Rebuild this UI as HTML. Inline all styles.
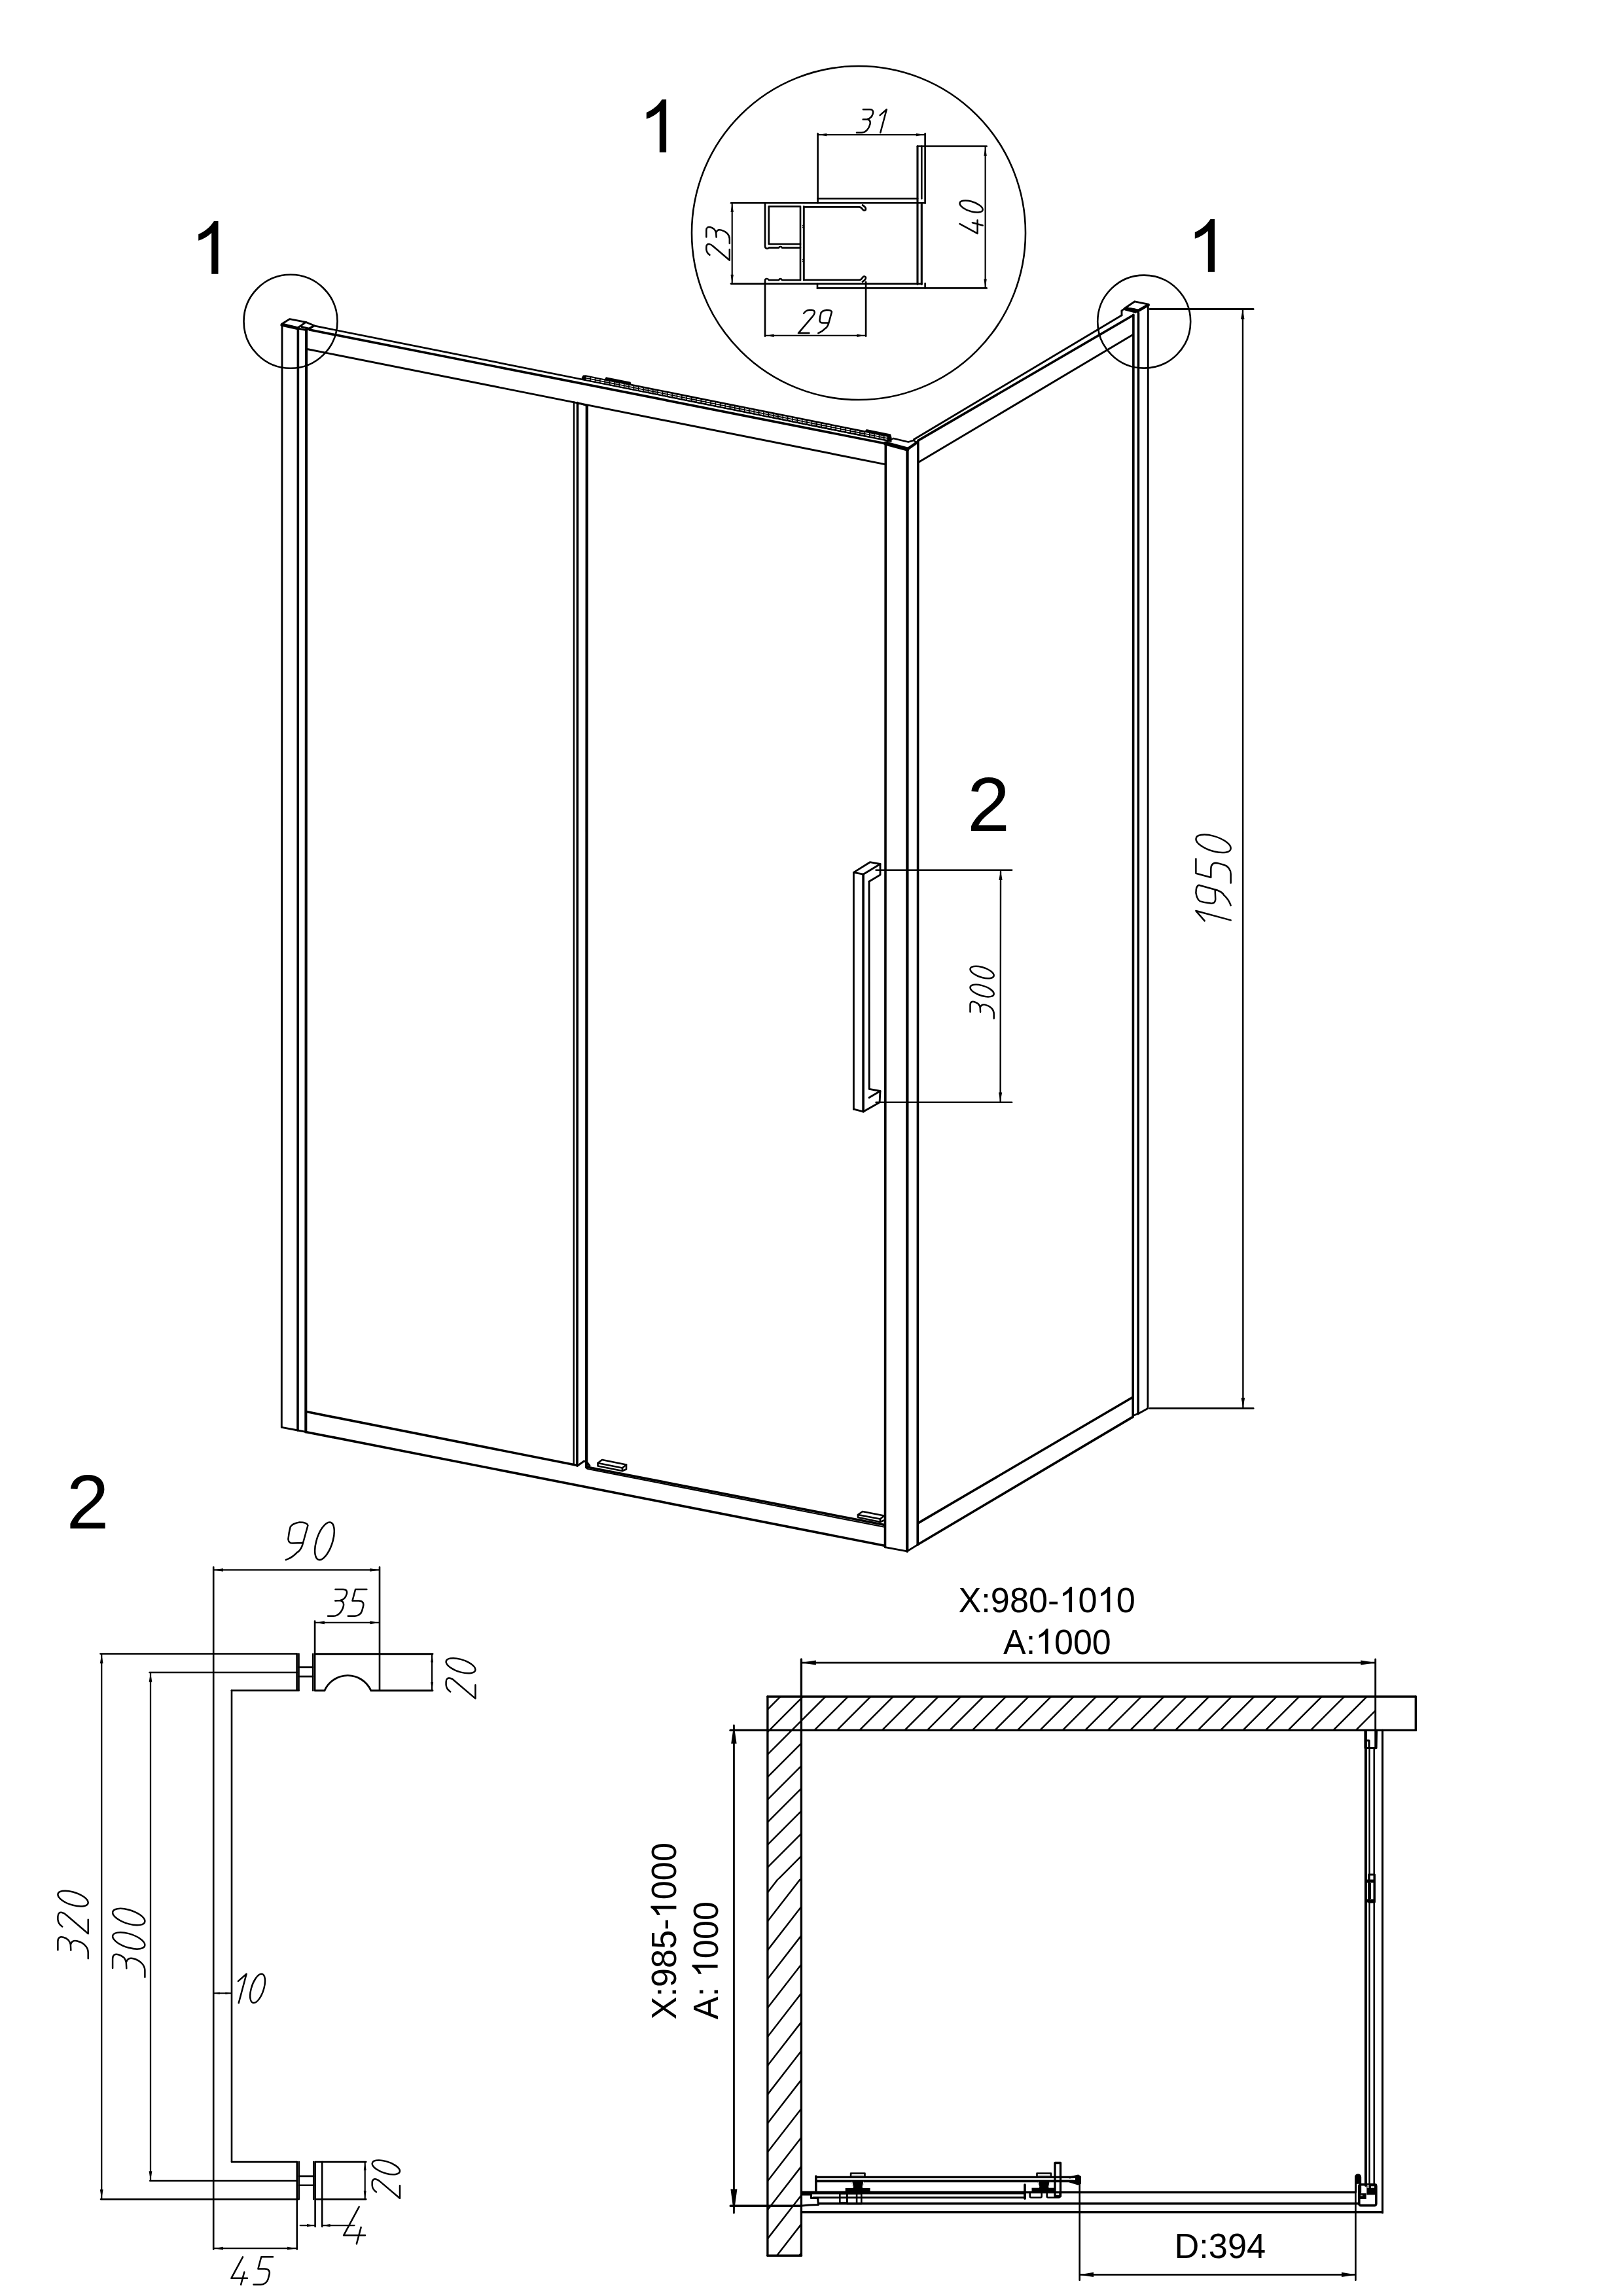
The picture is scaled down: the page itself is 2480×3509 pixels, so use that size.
<!DOCTYPE html>
<html><head><meta charset="utf-8"><style>
html,body{margin:0;padding:0;background:#fff;}
svg{display:block;}
text{font-family:"Liberation Sans",sans-serif;fill:#000;stroke:none;font-kerning:none;}
</style></head><body>
<svg width="2480" height="3509" viewBox="0 0 2480 3509">
<rect width="2480" height="3509" fill="#fff"/>
<g fill="none" stroke="#000" stroke-linecap="round" stroke-linejoin="round">
<path d="M326.9,338 L333.5,338 L333.5,418.8 L323.2,418.8 L323.2,355.9 C317.7,361.2 310.7,365.2 303.2,367.8 L303.2,358.1 C313.2,353.6 321.7,346.5 326.9,338 Z" fill="#000" stroke="none"/>
<path d="M1849.5,335 L1856.1,335 L1856.1,415.8 L1845.8,415.8 L1845.8,352.9 C1840.3,358.2 1833.3,362.2 1825.8,364.8 L1825.8,355.1 C1835.8,350.6 1844.3,343.5 1849.5,335 Z" fill="#000" stroke="none"/>
<path d="M1011.5,152 L1018.1,152 L1018.1,232.8 L1007.8,232.8 L1007.8,169.9 C1002.3,175.2 995.3,179.2 987.8,181.8 L987.8,172.1 C997.8,167.6 1006.3,160.5 1011.5,152 Z" fill="#000" stroke="none"/>
<g><text x="1478.1" y="1269.7" font-size="117">2</text></g>
<g><text x="101.4" y="2335.9" font-size="117">2</text></g>
<circle cx="444" cy="491.3" r="71.5" stroke-width="2.6"/>
<circle cx="1748.2" cy="491.6" r="71" stroke-width="2.6"/>
<circle cx="1312" cy="356" r="255" stroke-width="2.6"/>
<line x1="431" y1="495.5" x2="430.3" y2="2181.3" stroke-width="2.88"/>
<line x1="455.4" y1="501.5" x2="455" y2="2186" stroke-width="3.6"/>
<line x1="468.1" y1="503.5" x2="467.3" y2="2188.4" stroke-width="4.08"/>
<path d="M430.3,2181.3 L455,2186 L467.3,2188.4" stroke-width="2.88"/>
<path d="M430.8,495 L442.8,487.6 L467.4,492.4 L455.4,500.8 Z" stroke-width="2.88"/>
<line x1="430.8" y1="496.5" x2="455.4" y2="502" stroke-width="4.8"/>
<path d="M455.4,502 L468.1,504.6 L480,497.5 L467.4,492.4" stroke-width="2.88"/>
<path d="M461,499.5 L473,502.5 L479.7,498" stroke-width="2.88"/>
<line x1="480" y1="497.9" x2="1324" y2="666.7" stroke-width="2.64"/>
<line x1="473" y1="504" x2="1353.5" y2="678" stroke-width="3.6"/>
<line x1="469.3" y1="533.5" x2="1352.3" y2="709.6" stroke-width="2.88"/>
<path d="M888.8,576.7 L891.0,573.6 L895.0,573.3 L924.0,579.3 L926.0,576.3 L963.5,583.7 L964.5,586.8 L1322.0,658.3 L1324.0,656.0 L1361.0,663.4 L1362.5,668.4 L1362.5,675.9 L888.8,580.5 Z" fill="#000" stroke="none"/>
<line x1="896" y1="576.4" x2="1355" y2="668.2" stroke="#fff" stroke-width="1.2" stroke-dasharray="5 2.5"/>
<line x1="896" y1="579.4" x2="1355" y2="671.2" stroke="#fff" stroke-width="1.2" stroke-dasharray="5 2.5"/>
<line x1="877" y1="614.5" x2="876.7" y2="2238" stroke-width="2.4"/>
<line x1="882.5" y1="615.5" x2="881.9" y2="2240" stroke-width="3.6"/>
<line x1="896.8" y1="620" x2="896.1" y2="2242.5" stroke-width="4.32"/>
<path d="M883.5,617 L888,617 L898,620.5" stroke-width="2.4"/>
<line x1="468.5" y1="2157.6" x2="881.9" y2="2239.5" stroke-width="3.6"/>
<line x1="896.5" y1="2242" x2="1351.5" y2="2330.6" stroke-width="3.6"/>
<line x1="898" y1="2245" x2="1351.5" y2="2333.8" stroke-width="2.16"/>
<line x1="467.3" y1="2188.4" x2="1351.5" y2="2362.3" stroke-width="3.6"/>
<path d="M882,2240.5 L892.5,2233 L897.5,2235.5 L901,2240 L897,2244" stroke-width="2.88"/>
<path d="M913.5,2236 L920,2231 L957,2238.5 L951,2243.5 Z" stroke-width="2.64"/>
<path d="M913.5,2236 L913.5,2240.5 L951,2248 L957,2245.5 L957,2238.5" stroke-width="2.64"/>
<line x1="951" y1="2243.5" x2="951" y2="2248" stroke-width="2.64"/>
<path d="M1311,2315 L1318,2310 L1351,2316.5 L1345,2321.5 Z" stroke-width="2.64"/>
<path d="M1311,2315 L1311,2319 L1345,2326 L1351,2323.5" stroke-width="2.64"/>
<line x1="1345" y1="2321.5" x2="1345" y2="2326" stroke-width="2.64"/>
<line x1="1353.3" y1="677" x2="1352.5" y2="2364.6" stroke-width="3.6"/>
<line x1="1386.5" y1="685.8" x2="1386.2" y2="2370.8" stroke-width="4.32"/>
<line x1="1402.8" y1="673.5" x2="1402.2" y2="2360.9" stroke-width="3.6"/>
<path d="M1352.5,2364.6 L1386.2,2370.8 L1402.2,2360.9" stroke-width="2.88"/>
<path d="M1353,676.5 L1386.5,685.8 L1401,676.5 L1396,673 L1388,675.5 L1365,670 Z" fill="none" stroke-width="2.4"/>
<line x1="1353" y1="677.5" x2="1386.5" y2="686.5" stroke-width="6.0"/>
<line x1="1386.5" y1="686.5" x2="1401.5" y2="676" stroke-width="4.2"/>
<line x1="1396.6" y1="671.4" x2="1714.2" y2="481.8" stroke-width="2.88"/>
<line x1="1402.8" y1="673.4" x2="1731.5" y2="481.8" stroke-width="3.6"/>
<line x1="1403.5" y1="706.5" x2="1731.5" y2="511.3" stroke-width="2.88"/>
<line x1="1731.9" y1="481" x2="1731.2" y2="2163.5" stroke-width="3.6"/>
<line x1="1739.5" y1="478" x2="1739.1" y2="2160.7" stroke-width="3.6"/>
<line x1="1754.3" y1="465.7" x2="1753.9" y2="2152.4" stroke-width="2.88"/>
<path d="M1731.2,2163.5 L1739.1,2160.7 L1753.9,2152.4" stroke-width="2.88"/>
<path d="M1714,475 L1714,481" stroke-width="2.88"/>
<path d="M1714,475 L1719.5,470.5 L1734,473 L1739.5,478" stroke-width="2.88"/>
<path d="M1719.5,470.5 L1734,460.8 L1754.9,465.1 L1739.5,474 Z" stroke-width="2.88"/>
<line x1="1739.5" y1="475" x2="1754.9" y2="466" stroke-width="4.2"/>
<line x1="1719.5" y1="472.5" x2="1735" y2="476.5" stroke-width="4.2"/>
<line x1="1403.2" y1="2327.6" x2="1730.2" y2="2135.8" stroke-width="3.6"/>
<line x1="1402.5" y1="2360.5" x2="1731.2" y2="2165.4" stroke-width="3.6"/>
<line x1="1304.4" y1="1333.4" x2="1304.4" y2="1695.2" stroke-width="2.88"/>
<line x1="1319.1" y1="1336.2" x2="1319.1" y2="1698.9" stroke-width="3.6"/>
<line x1="1328" y1="1347.3" x2="1328.2" y2="1664.3" stroke-width="2.88"/>
<path d="M1304.4,1333.4 L1329.3,1317.7 L1345,1320.5 L1319.1,1336.2 Z" stroke-width="2.88"/>
<path d="M1345,1320.5 L1345,1337.1 L1328,1347.3" stroke-width="2.88"/>
<path d="M1304.4,1695.2 L1319.1,1698.9 L1344.1,1684.7 L1345,1667.5 L1328.4,1664.3" stroke-width="2.88"/>
<line x1="1328" y1="1677.6" x2="1345" y2="1667.5" stroke-width="2.88"/>
<line x1="1338.6" y1="1329.7" x2="1546.1" y2="1329.7" stroke-width="2.64"/>
<line x1="1338.6" y1="1684.7" x2="1546.1" y2="1684.7" stroke-width="2.64"/>
<line x1="1529" y1="1331.6" x2="1528.6" y2="1683.2" stroke-width="2.4"/>
<path d="M1529,1331 L1531.6,1345 L1526.4,1345 Z" fill="#000" stroke="none"/>
<path d="M1528.6,1683.6 L1526,1669.6 L1531.2,1669.6 Z" fill="#000" stroke="none"/>
<line x1="1757" y1="472.5" x2="1915.1" y2="472.5" stroke-width="2.88"/>
<line x1="1757" y1="2152.4" x2="1915.1" y2="2152.4" stroke-width="2.88"/>
<line x1="1899" y1="474" x2="1899.4" y2="2150.6" stroke-width="2.4"/>
<path d="M1898.8,473.6 L1901.6,488.1 L1896,488.1 Z" fill="#000" stroke="none"/>
<path d="M1899.4,2151 L1896.6,2136.5 L1902.2,2136.5 Z" fill="#000" stroke="none"/>
<line x1="1249.6" y1="206" x2="1413.6" y2="206" stroke-width="2.16"/>
<path d="M1250.4,206 L1263.4,203.8 L1263.4,208.2 Z" fill="#000" stroke="none"/>
<path d="M1412.8,206 L1399.8,208.2 L1399.8,203.8 Z" fill="#000" stroke="none"/>
<line x1="1249.6" y1="204" x2="1249.6" y2="310.2" stroke-width="2.64"/>
<line x1="1413.6" y1="204" x2="1413.6" y2="310.5" stroke-width="2.64"/>
<line x1="1249.6" y1="303.5" x2="1402" y2="303.5" stroke-width="2.64"/>
<line x1="1117" y1="310.2" x2="1413.6" y2="310.2" stroke-width="2.64"/>
<line x1="1402" y1="223.5" x2="1402" y2="434.5" stroke-width="3.12"/>
<line x1="1408.3" y1="223.5" x2="1408.3" y2="303.5" stroke-width="2.64"/>
<line x1="1408.3" y1="310.2" x2="1408.3" y2="434.5" stroke-width="3.12"/>
<line x1="1402" y1="223.5" x2="1507.6" y2="223.5" stroke-width="2.64"/>
<line x1="1505.6" y1="224.5" x2="1505.6" y2="439.5" stroke-width="2.16"/>
<path d="M1505.6,225 L1507.8,238 L1503.4,238 Z" fill="#000" stroke="none"/>
<path d="M1505.6,439.5 L1503.4,426.5 L1507.8,426.5 Z" fill="#000" stroke="none"/>
<line x1="1117" y1="433.6" x2="1408.3" y2="433.6" stroke-width="2.64"/>
<line x1="1249" y1="440.4" x2="1507.6" y2="440.4" stroke-width="2.64"/>
<line x1="1249" y1="433.6" x2="1249" y2="440.4" stroke-width="2.64"/>
<line x1="1413.6" y1="433" x2="1413.6" y2="440.4" stroke-width="2.64"/>
<path d="M1174.8,315.6 L1223,315.6 L1223,373 L1174.8,373 Z" stroke-width="2.64"/>
<path d="M1169,310.2 L1169,376 C1169,380 1173,381 1175,378.6 L1190,378.6 C1191,376.5 1194,376.5 1195,378.6 L1223,378.6" stroke-width="2.64" />
<line x1="1223" y1="373" x2="1223" y2="428" stroke-width="2.64"/>
<path d="M1223,428 L1195,428 C1194,425.5 1191,425.5 1190,428 L1175,428 C1173,425 1169,425.5 1169,429 L1169,513.8" stroke-width="2.64" />
<line x1="1228.3" y1="315.6" x2="1228.3" y2="428" stroke-width="2.88"/>
<path d="M1228.3,316.4 L1313,316.4 C1316,316.4 1317,318.5 1318.5,320.5 C1320,322.5 1323,321.5 1323,319.5 C1323,317 1320.5,315 1318,313.5" stroke-width="2.64" />
<path d="M1228.3,427.8 L1313,427.8 C1316,427.8 1317,425.5 1318.5,423.5 C1320,421.5 1323,422.5 1323,424.5 C1323,427 1320.5,429 1318,430.5" stroke-width="2.64" />
<path d="M1228.3,346 l-1.6,-1.5 M1228.3,346 l-1.6,1.5 M1228.3,398 l-1.6,-1.5 M1228.3,398 l-1.6,1.5" stroke-width="1.6"/>
<line x1="1118.7" y1="311" x2="1118.7" y2="432.8" stroke-width="2.16"/>
<path d="M1118.7,311 L1120.9,324 L1116.5,324 Z" fill="#000" stroke="none"/>
<path d="M1118.7,432.8 L1116.5,419.8 L1120.9,419.8 Z" fill="#000" stroke="none"/>
<line x1="1323.1" y1="431" x2="1323.1" y2="513.8" stroke-width="2.64"/>
<line x1="1168.9" y1="512.9" x2="1323.1" y2="512.9" stroke-width="2.16"/>
<path d="M1169.6,512.9 L1182.6,510.7 L1182.6,515.1 Z" fill="#000" stroke="none"/>
<path d="M1322.4,512.9 L1309.4,515.1 L1309.4,510.7 Z" fill="#000" stroke="none"/>
<line x1="153.5" y1="2527.5" x2="453.6" y2="2527.5" stroke-width="2.64"/>
<line x1="228.6" y1="2556" x2="453.6" y2="2556" stroke-width="2.64"/>
<line x1="354" y1="2583.6" x2="456.5" y2="2583.6" stroke-width="2.64"/>
<line x1="326.2" y1="2395" x2="326.2" y2="3437.6" stroke-width="2.64"/>
<line x1="354" y1="2583.6" x2="354" y2="3304.1" stroke-width="2.64"/>
<line x1="354" y1="3304.1" x2="453.6" y2="3304.1" stroke-width="2.64"/>
<line x1="229.3" y1="3333" x2="453.6" y2="3333" stroke-width="2.64"/>
<line x1="154" y1="3361.1" x2="455.2" y2="3361.1" stroke-width="2.64"/>
<line x1="155.2" y1="2528.5" x2="155.2" y2="3360" stroke-width="2.28"/>
<path d="M155.2,2528.3 L157.6,2542.3 L152.8,2542.3 Z" fill="#000" stroke="none"/>
<path d="M155.2,3360.3 L152.8,3346.3 L157.6,3346.3 Z" fill="#000" stroke="none"/>
<line x1="230" y1="2557" x2="230" y2="3332" stroke-width="2.28"/>
<path d="M230,2556.8 L232.4,2570.8 L227.6,2570.8 Z" fill="#000" stroke="none"/>
<path d="M230,3332.2 L227.6,3318.2 L232.4,3318.2 Z" fill="#000" stroke="none"/>
<line x1="580" y1="2395" x2="580" y2="2583.6" stroke-width="2.64"/>
<line x1="326.5" y1="2399.4" x2="579.5" y2="2399.4" stroke-width="2.28"/>
<path d="M327,2399.4 L341,2397 L341,2401.8 Z" fill="#000" stroke="none"/>
<path d="M579.4,2399.4 L565.4,2401.8 L565.4,2397 Z" fill="#000" stroke="none"/>
<line x1="481.1" y1="2477.5" x2="481.1" y2="2583.6" stroke-width="2.64"/>
<line x1="481.5" y1="2479.9" x2="579.5" y2="2479.9" stroke-width="2.28"/>
<path d="M481.9,2479.9 L495.9,2477.5 L495.9,2482.3 Z" fill="#000" stroke="none"/>
<path d="M579.4,2479.9 L565.4,2482.3 L565.4,2477.5 Z" fill="#000" stroke="none"/>
<line x1="453.6" y1="2527.5" x2="453.6" y2="2583.6" stroke-width="2.64"/>
<line x1="456.5" y1="2527.5" x2="456.5" y2="2583.6" stroke-width="2.64"/>
<line x1="456.5" y1="2547.9" x2="478.2" y2="2547.9" stroke-width="2.64"/>
<line x1="456.5" y1="2562.1" x2="478.2" y2="2562.1" stroke-width="2.64"/>
<line x1="478.2" y1="2527.8" x2="478.2" y2="2583.6" stroke-width="2.64"/>
<line x1="481.1" y1="2527.8" x2="661" y2="2527.8" stroke-width="2.88"/>
<path d="M481.1,2583.8 L495.9,2583.8 A38.8,38.8 0 0 1 566.9,2583.8 L661,2583.8" stroke-width="2.88" />
<line x1="660.1" y1="2529" x2="660.1" y2="2582.5" stroke-width="2.16"/>
<path d="M660.1,2528.6 L662.1,2540.6 L658.1,2540.6 Z" fill="#000" stroke="none"/>
<path d="M660.1,2583 L658.1,2571 L662.1,2571 Z" fill="#000" stroke="none"/>
<line x1="453.8" y1="3304.1" x2="453.8" y2="3437.6" stroke-width="2.64"/>
<line x1="456.8" y1="3304.1" x2="456.8" y2="3361.1" stroke-width="2.64"/>
<line x1="456.8" y1="3325.9" x2="479.3" y2="3325.9" stroke-width="2.64"/>
<line x1="456.8" y1="3339.7" x2="479.3" y2="3339.7" stroke-width="2.64"/>
<line x1="479.3" y1="3304.1" x2="479.3" y2="3361.1" stroke-width="2.64"/>
<line x1="481.6" y1="3304.1" x2="481.6" y2="3403" stroke-width="2.64"/>
<line x1="482.4" y1="3304.1" x2="559.3" y2="3304.1" stroke-width="2.64"/>
<line x1="482.4" y1="3361.1" x2="559.3" y2="3361.1" stroke-width="2.64"/>
<line x1="492.2" y1="3304.1" x2="492.2" y2="3403" stroke-width="2.64"/>
<line x1="557.7" y1="3305.3" x2="557.7" y2="3360" stroke-width="2.16"/>
<path d="M557.7,3304.9 L559.7,3316.9 L555.7,3316.9 Z" fill="#000" stroke="none"/>
<path d="M557.7,3360.3 L555.7,3348.3 L559.7,3348.3 Z" fill="#000" stroke="none"/>
<line x1="326.5" y1="3436.2" x2="453.5" y2="3436.2" stroke-width="2.28"/>
<path d="M327,3436.2 L341,3433.8 L341,3438.6 Z" fill="#000" stroke="none"/>
<path d="M453,3436.2 L439,3438.6 L439,3433.8 Z" fill="#000" stroke="none"/>
<line x1="458.7" y1="3401.1" x2="480.5" y2="3401.1" stroke-width="2.28"/>
<path d="M481,3401.1 L469,3403.3 L469,3398.9 Z" fill="#000" stroke="none"/>
<line x1="493" y1="3401.1" x2="541.5" y2="3401.1" stroke-width="2.28"/>
<path d="M492.6,3401.1 L504.6,3398.9 L504.6,3403.3 Z" fill="#000" stroke="none"/>
<line x1="327" y1="3046.3" x2="353.2" y2="3046.3" stroke-width="1.92"/>
<path d="M326.8,3046.3 L335.8,3044.7 L335.8,3047.9 Z" fill="#000" stroke="none"/>
<path d="M353.4,3046.3 L344.4,3047.9 L344.4,3044.7 Z" fill="#000" stroke="none"/>
<defs><clipPath id="hA"><path d="M1172.9,2593 L2101.7,2593 L2101.7,2644.4 L1224.4,2644.4 L1224.4,2872 L1172.9,2872 Z"/></clipPath><clipPath id="hB"><path d="M1172.9,2872 L1224.4,2872 L1224.4,3447.2 L1172.9,3447.2 Z"/></clipPath></defs>
<path clip-path="url(#hA)" d="M1150,2635.4 L2130,1655.4 M1150,2669.9 L2130,1689.9 M1150,2704.3 L2130,1724.3 M1150,2738.8 L2130,1758.8 M1150,2773.3 L2130,1793.3 M1150,2807.7 L2130,1827.7 M1150,2842.2 L2130,1862.2 M1150,2876.7 L2130,1896.7 M1150,2911.1 L2130,1931.1 M1150,2945.6 L2130,1965.6 M1150,2980.1 L2130,2000.1 M1150,3014.6 L2130,2034.6 M1150,3049 L2130,2069 M1150,3083.5 L2130,2103.5 M1150,3118 L2130,2138 M1150,3152.4 L2130,2172.4 M1150,3186.9 L2130,2206.9 M1150,3221.4 L2130,2241.4 M1150,3255.9 L2130,2275.9 M1150,3290.3 L2130,2310.3 M1150,3324.8 L2130,2344.8 M1150,3359.3 L2130,2379.3 M1150,3393.7 L2130,2413.7 M1150,3428.2 L2130,2448.2 M1150,3462.7 L2130,2482.7 M1150,3497.1 L2130,2517.1 M1150,3531.6 L2130,2551.6 M1150,3566.1 L2130,2586.1 M1150,3600.6 L2130,2620.6 M1150,3635 L2130,2655" stroke-width="2.5"/>
<path clip-path="url(#hB)" d="M1160,2820.7 L1240,2717.5 M1160,2864.8 L1240,2761.6 M1160,2908.9 L1240,2805.7 M1160,2953 L1240,2849.8 M1160,2997.1 L1240,2893.9 M1160,3041.2 L1240,2938 M1160,3085.3 L1240,2982.1 M1160,3129.4 L1240,3026.2 M1160,3173.5 L1240,3070.3 M1160,3217.6 L1240,3114.4 M1160,3261.7 L1240,3158.5 M1160,3305.8 L1240,3202.6 M1160,3349.9 L1240,3246.7 M1160,3394 L1240,3290.8 M1160,3438.1 L1240,3334.9 M1160,3482.2 L1240,3379 M1160,3526.3 L1240,3423.1" stroke-width="2.5"/>
<line x1="1172.9" y1="2593" x2="2163.3" y2="2593" stroke-width="3.36"/>
<line x1="2163.3" y1="2593" x2="2163.3" y2="2644.4" stroke-width="3.36"/>
<line x1="1116" y1="2644.4" x2="2163.3" y2="2644.4" stroke-width="3.36"/>
<line x1="1172.9" y1="2593" x2="1172.9" y2="3447.2" stroke-width="3.36"/>
<line x1="1224.4" y1="2536" x2="1224.4" y2="3447.2" stroke-width="3.36"/>
<line x1="1172.9" y1="3447.2" x2="1224.4" y2="3447.2" stroke-width="3.36"/>
<line x1="2101.7" y1="2536" x2="2101.7" y2="2672" stroke-width="2.88"/>
<line x1="1225" y1="2541.1" x2="2101" y2="2541.1" stroke-width="2.64"/>
<path d="M1224.8,2541.1 L1246.8,2537.5 L1246.8,2544.7 Z" fill="#000" stroke="none"/>
<path d="M2101.3,2541.1 L2079.3,2544.7 L2079.3,2537.5 Z" fill="#000" stroke="none"/>
<g transform="translate(1464.4,2463.9) scale(1,1.035) translate(-1464.4,-2463.9)"><text x="1464.4" y="2463.9" font-size="52.3">X:980- 0 0</text><path transform="translate(1618.5,2463.9) scale(52.3)" d="M0.317,-0.716 L0.375,-0.716 L0.375,0 L0.284,0 L0.284,-0.557 C0.2352,-0.5103 0.1732,-0.4749 0.1067,-0.4518 L0.1067,-0.5378 C0.1953,-0.5777 0.2707,-0.6406 0.3168,-0.716 Z" fill="#000" stroke="none"/><path transform="translate(1676.7,2463.9) scale(52.3)" d="M0.317,-0.716 L0.375,-0.716 L0.375,0 L0.284,0 L0.284,-0.557 C0.2352,-0.5103 0.1732,-0.4749 0.1067,-0.4518 L0.1067,-0.5378 C0.1953,-0.5777 0.2707,-0.6406 0.3168,-0.716 Z" fill="#000" stroke="none"/></g>
<g transform="translate(1533,2527.6) scale(1,1.035) translate(-1533,-2527.6)"><text x="1533" y="2527.6" font-size="52">A: 000</text><path transform="translate(1582.1,2527.6) scale(52)" d="M0.317,-0.716 L0.375,-0.716 L0.375,0 L0.284,0 L0.284,-0.557 C0.2352,-0.5103 0.1732,-0.4749 0.1067,-0.4518 L0.1067,-0.5378 C0.1953,-0.5777 0.2707,-0.6406 0.3168,-0.716 Z" fill="#000" stroke="none"/></g>
<line x1="1121.4" y1="2637" x2="1121.4" y2="3382" stroke-width="2.88"/>
<path d="M1121.4,2635.8 L1125.6,2664.8 L1117.2,2664.8 Z" fill="#000" stroke="none"/>
<path d="M1121.4,3382.7 L1116.4,3345.7 L1126.4,3345.7 Z" fill="#000" stroke="none"/>
<line x1="1116.2" y1="3371.3" x2="1224.4" y2="3371.3" stroke-width="3.36"/>
<g transform="rotate(-90 1033.4 3086.4) translate(1033.4,3086.4) scale(1,1.04) translate(-1033.4,-3086.4)"><text x="1033.4" y="3086.4" font-size="52.3">X:985- 000</text><path transform="translate(1187.5,3086.4) scale(52.3)" d="M0.317,-0.716 L0.375,-0.716 L0.375,0 L0.284,0 L0.284,-0.557 C0.2352,-0.5103 0.1732,-0.4749 0.1067,-0.4518 L0.1067,-0.5378 C0.1953,-0.5777 0.2707,-0.6406 0.3168,-0.716 Z" fill="#000" stroke="none"/></g>
<g transform="rotate(-90 1096.6 3086.2) translate(1096.6,3086.2) scale(1,1.04) translate(-1096.6,-3086.2)"><text x="1096.6" y="3086.2" font-size="52.3">A:  000</text><path transform="translate(1160.5,3086.2) scale(52.3)" d="M0.317,-0.716 L0.375,-0.716 L0.375,0 L0.284,0 L0.284,-0.557 C0.2352,-0.5103 0.1732,-0.4749 0.1067,-0.4518 L0.1067,-0.5378 C0.1953,-0.5777 0.2707,-0.6406 0.3168,-0.716 Z" fill="#000" stroke="none"/></g>
<line x1="1226" y1="3351.1" x2="1566" y2="3351.1" stroke-width="4.8"/>
<line x1="1566" y1="3350.6" x2="2071" y2="3350.6" stroke-width="3.12"/>
<line x1="1243" y1="3358.5" x2="1566" y2="3358.5" stroke-width="3.12"/>
<line x1="1566" y1="3352" x2="1566" y2="3360" stroke-width="3.12"/>
<line x1="1250.5" y1="3367.8" x2="2076" y2="3367.8" stroke-width="3.36"/>
<line x1="1226" y1="3380.8" x2="2112.5" y2="3380.8" stroke-width="3.36"/>
<path d="M1226,3354 L1239.5,3354 L1239.5,3359.5 L1249.5,3359.5 L1250.5,3369.5 L1236,3370 L1226,3371" stroke-width="3.12" />
<line x1="1246.8" y1="3327.4" x2="1650.4" y2="3327.4" stroke-width="3.36"/>
<line x1="1246.8" y1="3333.6" x2="1650.4" y2="3333.6" stroke-width="3.36"/>
<line x1="1249" y1="3330.5" x2="1640" y2="3330.5" stroke="#bbb" stroke-width="1.6"/>
<line x1="1246.8" y1="3326" x2="1246.8" y2="3348" stroke-width="3.6"/>
<path d="M1634.5,3328 L1647.5,3325 L1650.5,3327 L1650.5,3337 L1647.5,3338 L1634.5,3334" stroke-width="2.88" />
<rect x="1643" y="3326" width="7" height="11" fill="#000" stroke="none"/>
<rect x="1300.1" y="3321.5" width="21.4" height="5.6" fill="none" stroke-width="2.6"/>
<rect x="1301.8" y="3324" width="18" height="2" fill="#bbb" stroke="none"/>
<path d="M1300.6,3333.5 L1321.0,3333.5 L1317.8,3344 L1303.8,3344 Z" fill="#000" stroke="none"/>
<path d="M1301.8,3335 L1303.3,3342" stroke="#fff" stroke-width="1.2"/>
<path d="M1319.8,3335 L1318.3,3342" stroke="#fff" stroke-width="1.2"/>
<rect x="1291.7" y="3344" width="37.9" height="7" fill="#000" stroke="none"/>
<rect x="1283.3" y="3352.5" width="11" height="14" fill="none" stroke-width="2.6"/>
<rect x="1294.3" y="3352.5" width="22" height="15.5" fill="none" stroke-width="2.6"/>
<rect x="1307.8" y="3352.5" width="2.6" height="15" fill="#000" stroke="none"/>
<rect x="1584.5" y="3321.5" width="21.4" height="5.6" fill="none" stroke-width="2.6"/>
<rect x="1586.2" y="3324" width="18" height="2" fill="#bbb" stroke="none"/>
<path d="M1585.0,3333.5 L1605.4,3333.5 L1602.2,3344 L1588.2,3344 Z" fill="#000" stroke="none"/>
<path d="M1586.2,3335 L1587.7,3342" stroke="#fff" stroke-width="1.2"/>
<path d="M1604.2,3335 L1602.7,3342" stroke="#fff" stroke-width="1.2"/>
<rect x="1576.5" y="3343.7" width="36.5" height="6.5" fill="#000" stroke="none"/>
<rect x="1573.7" y="3350.5" width="18" height="8" rx="2" fill="none" stroke-width="2.6"/>
<rect x="1599.7" y="3350.5" width="20" height="8" rx="2" fill="none" stroke-width="2.6"/>
<path d="M1612,3305.5 L1620.5,3305.5 L1620.5,3356.5 L1612,3356.5 Z" stroke-width="3.36"/>
<line x1="1566" y1="3339" x2="1566" y2="3360" stroke-width="3.6"/>
<line x1="2086.9" y1="2646" x2="2086.9" y2="3340" stroke-width="3.96"/>
<line x1="2092.5" y1="2672" x2="2092.5" y2="3340" stroke-width="2.4"/>
<line x1="2099.7" y1="2672" x2="2099.7" y2="3340" stroke-width="2.52"/>
<line x1="2112.5" y1="2644.4" x2="2112.5" y2="3381.7" stroke-width="3.12"/>
<path d="M2086,2645 L2086,2671.5 L2103,2671.5 L2103.5,2645" stroke-width="3.12"/>
<path d="M2087,2660 L2092,2660 L2092,2671" stroke-width="3.12"/>
<path d="M2091.6,2865 L2100.5,2865 L2100.5,2907 L2091.6,2907 Z" stroke-width="2.88"/>
<rect x="2086" y="2872.5" width="15" height="5" fill="#000" stroke="none"/>
<rect x="2086" y="2902.5" width="15" height="5" fill="#000" stroke="none"/>
<rect x="2092" y="2878" width="3" height="24" fill="#000" stroke="none"/>
<path d="M2071.6,3350 L2071.6,3327.5 C2071.6,3322.5 2078.6,3322.5 2078.6,3327.5 L2078.6,3351" stroke-width="3.12" />
<rect x="2070.3" y="3325" width="9.6" height="12.7" rx="2" fill="#000" stroke="none"/>
<rect x="2076.8" y="3338.6" width="26" height="32" rx="2.5" fill="none" stroke-width="3.6"/>
<rect x="2088.3" y="3337.7" width="15.5" height="16.7" fill="#000" stroke="none"/>
<rect x="2095" y="3341.3" width="5" height="2.4" fill="#fff" stroke="none"/>
<rect x="2089.5" y="3339" width="1.8" height="5" fill="#fff" stroke="none"/>
<rect x="2075.5" y="3352.1" width="12.2" height="8.9" fill="#000" stroke="none"/>
<rect x="2079" y="3354.5" width="3" height="1.8" fill="#999" stroke="none"/>
<line x1="1649.7" y1="3336" x2="1649.7" y2="3484.7" stroke-width="2.64"/>
<line x1="2071.4" y1="3326" x2="2071.4" y2="3484.7" stroke-width="2.64"/>
<line x1="1650.5" y1="3476.4" x2="2070.6" y2="3476.4" stroke-width="2.64"/>
<path d="M1649,3476.4 L1671,3472.8 L1671,3480 Z" fill="#000" stroke="none"/>
<path d="M2072,3476.4 L2050,3480 L2050,3472.8 Z" fill="#000" stroke="none"/>
<g transform="translate(1794.4,3451) scale(1,1.035) translate(-1794.4,-3451)"><text x="1794.4" y="3451" font-size="52.4">D:394</text></g>
<g transform="translate(1309,202.8)" stroke-width="2.5"><path transform="translate(0,0) matrix(35.5,0,-9.512,35.5,0,0)" d="M0.01,-1 L0.3,-1 C0.43,-1 0.48,-0.92 0.48,-0.82 C0.48,-0.68 0.4,-0.6 0.3,-0.58 L0.12,-0.57 M0.3,-0.58 C0.42,-0.55 0.48,-0.47 0.48,-0.36 C0.48,-0.14 0.37,0 0.2,0 L0,0" vector-effect="non-scaling-stroke"/><path transform="translate(26,0) matrix(35.5,0,-9.512,35.5,0,0)" d="M0.07,-0.75 L0.29,-1 L0.29,0" vector-effect="non-scaling-stroke"/></g>
<g transform="translate(1501.7,359) rotate(-90)" stroke-width="2.5"><path transform="translate(0,0) matrix(35.2,0,-9.432,35.2,0,0)" d="M0.21,-1 L0,-0.23 L0.58,-0.23 M0.41,-0.45 L0.41,0" vector-effect="non-scaling-stroke"/><path transform="translate(31,0) matrix(35.2,0,-9.432,35.2,0,0)" d="M0.22,-1 C0.341,-1 0.44,-0.776 0.44,-0.5 C0.44,-0.224 0.341,0 0.22,0 C0.099,0 0,-0.224 0,-0.5 C0,-0.776 0.099,-1 0.22,-1 Z" vector-effect="non-scaling-stroke"/></g>
<g transform="translate(1114.8,397.8) rotate(-90)" stroke-width="2.5"><path transform="translate(0,0) matrix(35.5,0,-9.512,35.5,0,0)" d="M0.003,-0.853 C0.04,-0.95 0.12,-0.994 0.2,-1 L0.3,-1 C0.4,-1 0.463,-0.94 0.463,-0.864 C0.463,-0.8 0.45,-0.76 0.42,-0.72 L0,0 L0.463,0" vector-effect="non-scaling-stroke"/><path transform="translate(25.7,0) matrix(35.5,0,-9.512,35.5,0,0)" d="M0.01,-1 L0.3,-1 C0.43,-1 0.48,-0.92 0.48,-0.82 C0.48,-0.68 0.4,-0.6 0.3,-0.58 L0.12,-0.57 M0.3,-0.58 C0.42,-0.55 0.48,-0.47 0.48,-0.36 C0.48,-0.14 0.37,0 0.2,0 L0,0" vector-effect="non-scaling-stroke"/></g>
<g transform="translate(1220,509.1)" stroke-width="2.5"><path transform="translate(0,0) matrix(35.4,0,-9.485,35.4,0,0)" d="M0.003,-0.853 C0.04,-0.95 0.12,-0.994 0.2,-1 L0.3,-1 C0.4,-1 0.463,-0.94 0.463,-0.864 C0.463,-0.8 0.45,-0.76 0.42,-0.72 L0,0 L0.463,0" vector-effect="non-scaling-stroke"/><path transform="translate(26.2,0) matrix(35.4,0,-9.485,35.4,0,0)" d="M0.455,-0.915 C0.42,-0.98 0.35,-1 0.21,-1 C0.1,-0.98 0.02,-0.94 0,-0.88 L0.006,-0.73 L0.03,-0.55 C0.06,-0.47 0.12,-0.44 0.18,-0.44 L0.43,-0.45 M0.455,-0.915 L0.45,-0.39 C0.44,-0.28 0.4,-0.22 0.36,-0.195 C0.3,-0.1 0.2,-0.03 0.116,0" vector-effect="non-scaling-stroke"/></g>
<g transform="translate(1880.7,1421.8) rotate(-90)" stroke-width="2.5"><path transform="translate(0,0) matrix(53.3,0,-14.282,53.3,0,0)" d="M0.07,-0.75 L0.29,-1 L0.29,0" vector-effect="non-scaling-stroke"/><path transform="translate(31.7,0) matrix(53.3,0,-14.282,53.3,0,0)" d="M0.455,-0.915 C0.42,-0.98 0.35,-1 0.21,-1 C0.1,-0.98 0.02,-0.94 0,-0.88 L0.006,-0.73 L0.03,-0.55 C0.06,-0.47 0.12,-0.44 0.18,-0.44 L0.43,-0.45 M0.455,-0.915 L0.45,-0.39 C0.44,-0.28 0.4,-0.22 0.36,-0.195 C0.3,-0.1 0.2,-0.03 0.116,0" vector-effect="non-scaling-stroke"/><path transform="translate(72.2,0) matrix(53.3,0,-14.282,53.3,0,0)" d="M0.43,-1 L0.01,-1 L0.01,-0.57 L0.25,-0.57 C0.4,-0.57 0.47,-0.48 0.47,-0.36 L0.47,-0.2 C0.47,-0.08 0.38,0 0.26,0 L0,0" vector-effect="non-scaling-stroke"/><path transform="translate(113.6,0) matrix(53.3,0,-14.282,53.3,0,0)" d="M0.22,-1 C0.341,-1 0.44,-0.776 0.44,-0.5 C0.44,-0.224 0.341,0 0.22,0 C0.099,0 0,-0.224 0,-0.5 C0,-0.776 0.099,-1 0.22,-1 Z" vector-effect="non-scaling-stroke"/></g>
<g transform="translate(1518.7,1556.5) rotate(-90)" stroke-width="2.5"><path transform="translate(0,0) matrix(36.2,0,-9.700,36.2,0,0)" d="M0.01,-1 L0.3,-1 C0.43,-1 0.48,-0.92 0.48,-0.82 C0.48,-0.68 0.4,-0.6 0.3,-0.58 L0.12,-0.57 M0.3,-0.58 C0.42,-0.55 0.48,-0.47 0.48,-0.36 C0.48,-0.14 0.37,0 0.2,0 L0,0" vector-effect="non-scaling-stroke"/><path transform="translate(29.6,0) matrix(36.2,0,-9.700,36.2,0,0)" d="M0.22,-1 C0.341,-1 0.44,-0.776 0.44,-0.5 C0.44,-0.224 0.341,0 0.22,0 C0.099,0 0,-0.224 0,-0.5 C0,-0.776 0.099,-1 0.22,-1 Z" vector-effect="non-scaling-stroke"/><path transform="translate(57.7,0) matrix(36.2,0,-9.700,36.2,0,0)" d="M0.22,-1 C0.341,-1 0.44,-0.776 0.44,-0.5 C0.44,-0.224 0.341,0 0.22,0 C0.099,0 0,-0.224 0,-0.5 C0,-0.776 0.099,-1 0.22,-1 Z" vector-effect="non-scaling-stroke"/></g>
<g transform="translate(430.2,2383.9)" stroke-width="2.5"><path transform="translate(0,0) matrix(57.5,0,-15.407,57.5,0,0)" d="M0.455,-0.915 C0.42,-0.98 0.35,-1 0.21,-1 C0.1,-0.98 0.02,-0.94 0,-0.88 L0.006,-0.73 L0.03,-0.55 C0.06,-0.47 0.12,-0.44 0.18,-0.44 L0.43,-0.45 M0.455,-0.915 L0.45,-0.39 C0.44,-0.28 0.4,-0.22 0.36,-0.195 C0.3,-0.1 0.2,-0.03 0.116,0" vector-effect="non-scaling-stroke"/><path transform="translate(45.4,0) matrix(57.5,0,-15.407,57.5,0,0)" d="M0.22,-1 C0.341,-1 0.44,-0.776 0.44,-0.5 C0.44,-0.224 0.341,0 0.22,0 C0.099,0 0,-0.224 0,-0.5 C0,-0.776 0.099,-1 0.22,-1 Z" vector-effect="non-scaling-stroke"/></g>
<g transform="translate(501.1,2469.8)" stroke-width="2.5"><path transform="translate(0,0) matrix(40.9,0,-10.959,40.9,0,0)" d="M0.01,-1 L0.3,-1 C0.43,-1 0.48,-0.92 0.48,-0.82 C0.48,-0.68 0.4,-0.6 0.3,-0.58 L0.12,-0.57 M0.3,-0.58 C0.42,-0.55 0.48,-0.47 0.48,-0.36 C0.48,-0.14 0.37,0 0.2,0 L0,0" vector-effect="non-scaling-stroke"/><path transform="translate(30.7,0) matrix(40.9,0,-10.959,40.9,0,0)" d="M0.43,-1 L0.01,-1 L0.01,-0.57 L0.25,-0.57 C0.4,-0.57 0.47,-0.48 0.47,-0.36 L0.47,-0.2 C0.47,-0.08 0.38,0 0.26,0 L0,0" vector-effect="non-scaling-stroke"/></g>
<g transform="translate(726.4,2595.9) rotate(-90)" stroke-width="2.5"><path transform="translate(0,0) matrix(44.8,0,-12.004,44.8,0,0)" d="M0.003,-0.853 C0.04,-0.95 0.12,-0.994 0.2,-1 L0.3,-1 C0.4,-1 0.463,-0.94 0.463,-0.864 C0.463,-0.8 0.45,-0.76 0.42,-0.72 L0,0 L0.463,0" vector-effect="non-scaling-stroke"/><path transform="translate(34.3,0) matrix(44.8,0,-12.004,44.8,0,0)" d="M0.22,-1 C0.341,-1 0.44,-0.776 0.44,-0.5 C0.44,-0.224 0.341,0 0.22,0 C0.099,0 0,-0.224 0,-0.5 C0,-0.776 0.099,-1 0.22,-1 Z" vector-effect="non-scaling-stroke"/></g>
<g transform="translate(134.7,2993.2) rotate(-90)" stroke-width="2.5"><path transform="translate(0,0) matrix(46.3,0,-12.406,46.3,0,0)" d="M0.01,-1 L0.3,-1 C0.43,-1 0.48,-0.92 0.48,-0.82 C0.48,-0.68 0.4,-0.6 0.3,-0.58 L0.12,-0.57 M0.3,-0.58 C0.42,-0.55 0.48,-0.47 0.48,-0.36 C0.48,-0.14 0.37,0 0.2,0 L0,0" vector-effect="non-scaling-stroke"/><path transform="translate(38,0) matrix(46.3,0,-12.406,46.3,0,0)" d="M0.003,-0.853 C0.04,-0.95 0.12,-0.994 0.2,-1 L0.3,-1 C0.4,-1 0.463,-0.94 0.463,-0.864 C0.463,-0.8 0.45,-0.76 0.42,-0.72 L0,0 L0.463,0" vector-effect="non-scaling-stroke"/><path transform="translate(75.2,0) matrix(46.3,0,-12.406,46.3,0,0)" d="M0.22,-1 C0.341,-1 0.44,-0.776 0.44,-0.5 C0.44,-0.224 0.341,0 0.22,0 C0.099,0 0,-0.224 0,-0.5 C0,-0.776 0.099,-1 0.22,-1 Z" vector-effect="non-scaling-stroke"/></g>
<g transform="translate(221.4,3021.7) rotate(-90)" stroke-width="2.5"><path transform="translate(0,0) matrix(49.3,0,-13.210,49.3,0,0)" d="M0.01,-1 L0.3,-1 C0.43,-1 0.48,-0.92 0.48,-0.82 C0.48,-0.68 0.4,-0.6 0.3,-0.58 L0.12,-0.57 M0.3,-0.58 C0.42,-0.55 0.48,-0.47 0.48,-0.36 C0.48,-0.14 0.37,0 0.2,0 L0,0" vector-effect="non-scaling-stroke"/><path transform="translate(38.3,0) matrix(49.3,0,-13.210,49.3,0,0)" d="M0.22,-1 C0.341,-1 0.44,-0.776 0.44,-0.5 C0.44,-0.224 0.341,0 0.22,0 C0.099,0 0,-0.224 0,-0.5 C0,-0.776 0.099,-1 0.22,-1 Z" vector-effect="non-scaling-stroke"/><path transform="translate(74.7,0) matrix(49.3,0,-13.210,49.3,0,0)" d="M0.22,-1 C0.341,-1 0.44,-0.776 0.44,-0.5 C0.44,-0.224 0.341,0 0.22,0 C0.099,0 0,-0.224 0,-0.5 C0,-0.776 0.099,-1 0.22,-1 Z" vector-effect="non-scaling-stroke"/></g>
<g transform="translate(351.9,3061.1)" stroke-width="2.5"><path transform="translate(0,0) matrix(44.3,0,-11.870,44.3,0,0)" d="M0.07,-0.75 L0.29,-1 L0.29,0" vector-effect="non-scaling-stroke"/><path transform="translate(26,0) matrix(44.3,0,-11.870,44.3,0,0)" d="M0.22,-1 C0.341,-1 0.44,-0.776 0.44,-0.5 C0.44,-0.224 0.341,0 0.22,0 C0.099,0 0,-0.224 0,-0.5 C0,-0.776 0.099,-1 0.22,-1 Z" vector-effect="non-scaling-stroke"/></g>
<g transform="translate(611,3359.8) rotate(-90)" stroke-width="2.5"><path transform="translate(0,0) matrix(42.3,0,-11.334,42.3,0,0)" d="M0.003,-0.853 C0.04,-0.95 0.12,-0.994 0.2,-1 L0.3,-1 C0.4,-1 0.463,-0.94 0.463,-0.864 C0.463,-0.8 0.45,-0.76 0.42,-0.72 L0,0 L0.463,0" vector-effect="non-scaling-stroke"/><path transform="translate(32.4,0) matrix(42.3,0,-11.334,42.3,0,0)" d="M0.22,-1 C0.341,-1 0.44,-0.776 0.44,-0.5 C0.44,-0.224 0.341,0 0.22,0 C0.099,0 0,-0.224 0,-0.5 C0,-0.776 0.099,-1 0.22,-1 Z" vector-effect="non-scaling-stroke"/></g>
<g transform="translate(521.6,3429.4)" stroke-width="2.5"><path transform="translate(0,0) matrix(56.7,0,-15.193,56.7,0,0)" d="M0.21,-1 L0,-0.23 L0.58,-0.23 M0.41,-0.45 L0.41,0" vector-effect="non-scaling-stroke"/></g>
<g transform="translate(350.8,3491.6)" stroke-width="2.5"><path transform="translate(0,0) matrix(42.3,0,-11.334,42.3,0,0)" d="M0.21,-1 L0,-0.23 L0.58,-0.23 M0.41,-0.45 L0.41,0" vector-effect="non-scaling-stroke"/><path transform="translate(36.7,0) matrix(42.3,0,-11.334,42.3,0,0)" d="M0.43,-1 L0.01,-1 L0.01,-0.57 L0.25,-0.57 C0.4,-0.57 0.47,-0.48 0.47,-0.36 L0.47,-0.2 C0.47,-0.08 0.38,0 0.26,0 L0,0" vector-effect="non-scaling-stroke"/></g>
</g>
</svg>
</body></html>
